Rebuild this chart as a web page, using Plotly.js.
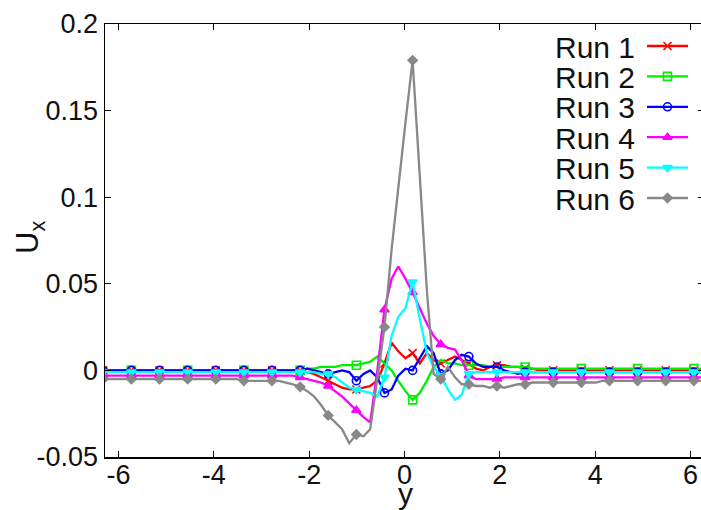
<!DOCTYPE html>
<html>
<head>
<meta charset="utf-8">
<script src="https://cdn.plot.ly/plotly-3.0.1.min.js"></script>
<style>
  html, body { margin: 0; padding: 0; overflow: hidden; background: #fff; }
  #chart { width: 704px; height: 510px; }
</style>
</head>
<body>
<div id="chart"></div>
<script>
// Sample positions along y (shared by every run)
const yCoord = [
  -6.32,-6.17,-6.03,-5.88,-5.73,-5.58,-5.44,-5.29,-5.14,-4.99,-4.85,-4.70,-4.55,-4.40,
  -4.26,-4.11,-3.96,-3.81,-3.67,-3.52,-3.37,-3.22,-3.08,-2.93,-2.78,-2.63,-2.49,-2.34,
  -2.19,-2.04,-1.90,-1.75,-1.60,-1.45,-1.31,-1.16,-1.01,-0.86,-0.72,-0.57,-0.42,-0.27,-0.13,
  0.02,0.17,0.32,0.47,0.61,0.76,0.91,1.06,1.20,1.35,1.50,1.65,1.79,1.94,2.09,2.24,2.38,2.53,
  2.68,2.83,2.97,3.12,3.27,3.42,3.56,3.71,3.86,4.01,4.15,4.30,4.45,
  4.60,4.74,4.89,5.04,5.19,5.33,5.48,5.63,5.78,5.92,6.07,6.22,6.37
];

// U_x profiles, one array per run
const run1 = [
  0,0,0,0,0,0,0,0,0,0,0,0,0,0,
  0,0,0,0,0,0,0,0,0,0,0,0,0,0,
  0.000,-0.001,-0.002,-0.004,-0.006,-0.008,-0.010,-0.011,-0.011,-0.010,-0.009,-0.006,0.004,0.016,0.011,
  0.007,0.010,0.004,0.010,0.006,0.004,0.006,0.008,0.006,0.004,0.001,0.000,0.002,0.003,0.003,0.002,0.002,0.001,
  0.001,0,0,0,0,0,0,0,0,0,0,0,0,
  0,0,0,0,0,0,0,0,0,0,0,0,0
];
const run2 = [
  0,0,0,0,0,0,0,0,0,0,0,0,0,0,
  0,0,0,0,0,0,0,0,0,0,0,0,0,0,
  0.000,0.001,0.001,0.002,0.002,0.002,0.003,0.003,0.003,0.004,0.005,0.008,0.004,0.000,-0.006,
  -0.012,-0.017,-0.013,-0.006,0.002,0.006,0.004,0.004,0.003,0.003,0.003,0.003,0.002,0.002,0.002,0.002,0.002,0.002,
  0.001,0.001,0.001,0.001,0.001,0.001,0.001,0.001,0.001,0.001,0.001,0.001,0.001,
  0.001,0.001,0.001,0.001,0.001,0.001,0.001,0.001,0.001,0.001,0.001,0.001,0.001
];
const run3 = [
  0,0,0,0,0,0,0,0,0,0,0,0,0,0,
  0,0,0,0,0,0,0,0,0,0,0,0,0,0,
  0.000,0.001,0.000,-0.001,-0.002,-0.001,0.000,-0.001,-0.006,-0.002,0.000,-0.004,-0.013,-0.011,-0.003,
  0.001,0.000,0.007,0.014,0.010,-0.002,0.000,0.006,0.009,0.008,0.004,0.002,0.002,0.002,0.000,-0.001,-0.002,-0.001,
  -0.001,-0.001,-0.001,-0.001,-0.001,-0.001,-0.001,-0.001,-0.001,-0.001,-0.001,-0.001,-0.001,
  -0.001,-0.001,-0.001,-0.001,-0.001,-0.001,-0.001,-0.001,-0.001,-0.001,-0.001,-0.001,-0.001
];
const run4 = [
  -0.003,-0.003,-0.003,-0.003,-0.003,-0.003,-0.003,-0.003,-0.003,-0.003,-0.003,-0.003,-0.003,-0.003,
  -0.003,-0.003,-0.003,-0.003,-0.003,-0.003,-0.003,-0.003,-0.003,-0.003,-0.003,-0.003,-0.003,-0.003,
  -0.004,-0.005,-0.006,-0.007,-0.009,-0.012,-0.015,-0.019,-0.023,-0.027,-0.030,0.000,0.035,0.053,0.060,
  0.053,0.045,0.036,0.027,0.020,0.015,0.013,0.012,0.006,-0.003,-0.005,-0.005,-0.005,-0.005,-0.004,-0.004,-0.004,-0.004,
  -0.004,-0.004,-0.004,-0.004,-0.004,-0.004,-0.004,-0.004,-0.004,-0.004,-0.004,-0.004,-0.004,
  -0.004,-0.004,-0.004,-0.004,-0.004,-0.004,-0.004,-0.004,-0.004,-0.004,-0.004,-0.004,-0.004
];
const run5 = [
  -0.001,-0.001,-0.001,-0.001,-0.001,-0.001,-0.001,-0.001,-0.001,-0.001,-0.001,-0.001,-0.001,-0.001,
  -0.001,-0.001,-0.001,-0.001,-0.001,-0.001,-0.001,-0.001,-0.001,-0.001,-0.001,-0.001,-0.001,-0.001,
  -0.001,-0.001,-0.001,-0.002,-0.002,-0.004,-0.007,-0.010,-0.011,-0.012,-0.013,-0.015,-0.004,0.020,0.031,
  0.036,0.051,0.030,0.010,0.002,-0.003,-0.011,-0.017,-0.014,-0.002,-0.001,-0.001,-0.001,-0.001,-0.001,-0.001,-0.001,-0.001,
  -0.001,-0.001,-0.001,-0.001,-0.001,-0.001,-0.001,-0.001,-0.001,-0.001,-0.001,-0.001,-0.001,
  -0.001,-0.001,-0.001,-0.001,-0.001,-0.001,-0.001,-0.001,-0.001,-0.001,-0.001,-0.001,-0.001
];
const run6 = [
  -0.005,-0.005,-0.005,-0.005,-0.005,-0.005,-0.005,-0.005,-0.005,-0.005,-0.005,-0.005,-0.005,-0.005,
  -0.005,-0.005,-0.005,-0.005,-0.005,-0.005,-0.006,-0.006,-0.006,-0.006,-0.006,-0.006,-0.007,-0.008,
  -0.0095,-0.012,-0.015,-0.020,-0.026,-0.030,-0.034,-0.042,-0.037,-0.038,-0.034,-0.005,0.025,0.070,0.106,
  0.143,0.179,0.113,0.046,-0.002,-0.005,0.002,-0.004,-0.008,-0.008,-0.009,-0.009,-0.010,-0.009,-0.010,-0.009,-0.008,-0.008,
  -0.007,-0.007,-0.007,-0.007,-0.007,-0.007,-0.007,-0.007,-0.007,-0.007,-0.006,-0.006,-0.006,
  -0.006,-0.006,-0.006,-0.006,-0.006,-0.006,-0.006,-0.006,-0.006,-0.006,-0.006,-0.006,-0.006
];

const runNames = ['Run 1', 'Run 2', 'Run 3', 'Run 4', 'Run 5', 'Run 6'];
const runValues = [run1, run2, run3, run4, run5, run6];

// Axis ticks
const yTickVals = [-0.05, 0, 0.05, 0.1, 0.15, 0.2];
const yTickText = ['-0.05', '0', '0.05', '0.1', '0.15', '0.2'];
const xTickVals = [-6, -4, -2, 0, 2, 4, 6];

// Styling per run
const colors  = ['#ff0000', '#00ee00', '#0000ff', '#ff00ff', '#00ffff', '#888888'];
const symbols = ['x-thin-open', 'square-open', 'circle-open', 'triangle-up', 'triangle-down', 'diamond'];
const msizes  = [8, 8, 8, 8, 8, 7];
const markEvery  = [4, 8, 4, 4, 4, 4];
const markOffset = [0, 4, 0, 0, 0, 0];

const FONT = 'Liberation Sans, Arial, Helvetica, sans-serif';
const W = 704, H = 510;
const M = { l: 105, r: 0, t: 24, b: 53 };
const plotW = W - M.l - M.r, plotH = H - M.t - M.b;
// pixel -> paper fraction helpers for titles placed outside the plot area
const px2paperX = px => (px - M.l) / plotW;
const px2paperY = py => (H - M.b - py) / plotH;

const traces = [];
runValues.forEach((vals, i) => {
  traces.push({
    x: yCoord, y: vals, mode: 'lines', type: 'scatter',
    line: { color: colors[i], width: 2.3 },
    hoverinfo: 'skip', showlegend: false
  });
  const mx = [], my = [];
  yCoord.forEach((v, k) => {
    if (k % markEvery[i] === markOffset[i]) { mx.push(v); my.push(vals[k]); }
  });
  traces.push({
    x: mx, y: my, mode: 'markers', type: 'scatter',
    marker: { symbol: symbols[i], size: msizes[i], color: colors[i],
              line: { color: colors[i], width: 1.6 } },
    hoverinfo: 'skip', showlegend: false
  });
});

// Key drawn in pixel space on an overlay axis pair
const keyTop = 46, keyStep = 30.4, keyX0 = 647, keyX1 = 688, keyTextRight = 637;
const annotations = [];
runNames.forEach((name, i) => {
  const py = keyTop + keyStep * i;
  traces.push({
    x: [keyX0, keyX1], y: [py, py], xaxis: 'x2', yaxis: 'y2',
    mode: 'lines', line: { color: colors[i], width: 2.3 },
    hoverinfo: 'skip', showlegend: false
  });
  traces.push({
    x: [(keyX0 + keyX1) / 2], y: [py], xaxis: 'x2', yaxis: 'y2',
    mode: 'markers',
    marker: { symbol: symbols[i], size: msizes[i], color: colors[i],
              line: { color: colors[i], width: 1.6 } },
    hoverinfo: 'skip', showlegend: false
  });
  annotations.push({
    xref: 'x2', yref: 'y2', x: keyTextRight, y: py + 1,
    xanchor: 'right', yanchor: 'middle', showarrow: false,
    text: name, font: { family: FONT, size: 30, color: '#111' }
  });
});

// Axis titles
annotations.push({
  xref: 'paper', yref: 'paper', x: px2paperX(405), y: px2paperY(493),
  xanchor: 'center', yanchor: 'middle', showarrow: false,
  text: 'y', font: { family: FONT, size: 30, color: '#111' }
});
annotations.push({
  xref: 'paper', yref: 'paper', x: px2paperX(30), y: px2paperY(238),
  xanchor: 'center', yanchor: 'middle', showarrow: false, textangle: -90,
  text: 'U<sub>x</sub>', font: { family: FONT, size: 31, color: '#111' }
});

const axisCommon = {
  showgrid: false, zeroline: false, showline: true, mirror: 'ticks',
  linecolor: '#000', linewidth: 1.5, ticks: 'inside', ticklen: 6,
  tickwidth: 1, tickcolor: '#000',
  tickfont: { family: FONT, size: 27, color: '#111' }
};

const layout = {
  width: W, height: H, margin: M,
  paper_bgcolor: '#fff', plot_bgcolor: '#fff',
  showlegend: false,
  xaxis: Object.assign({}, axisCommon, {
    range: [-2 * Math.PI, 2 * Math.PI], tickvals: xTickVals,
    ticktext: xTickVals.map(String), ticklabelstandoff: -7
  }),
  yaxis: Object.assign({}, axisCommon, {
    range: [-0.05, 0.2], tickvals: yTickVals, ticktext: yTickText
  }),
  xaxis2: { overlaying: 'x', range: [M.l, W - M.r], visible: false, fixedrange: true },
  yaxis2: { overlaying: 'y', range: [H - M.b, M.t], visible: false, fixedrange: true },
  annotations: annotations
};

Plotly.newPlot('chart', traces, layout, { staticPlot: true, displayModeBar: false });
</script>
</body>
</html>
